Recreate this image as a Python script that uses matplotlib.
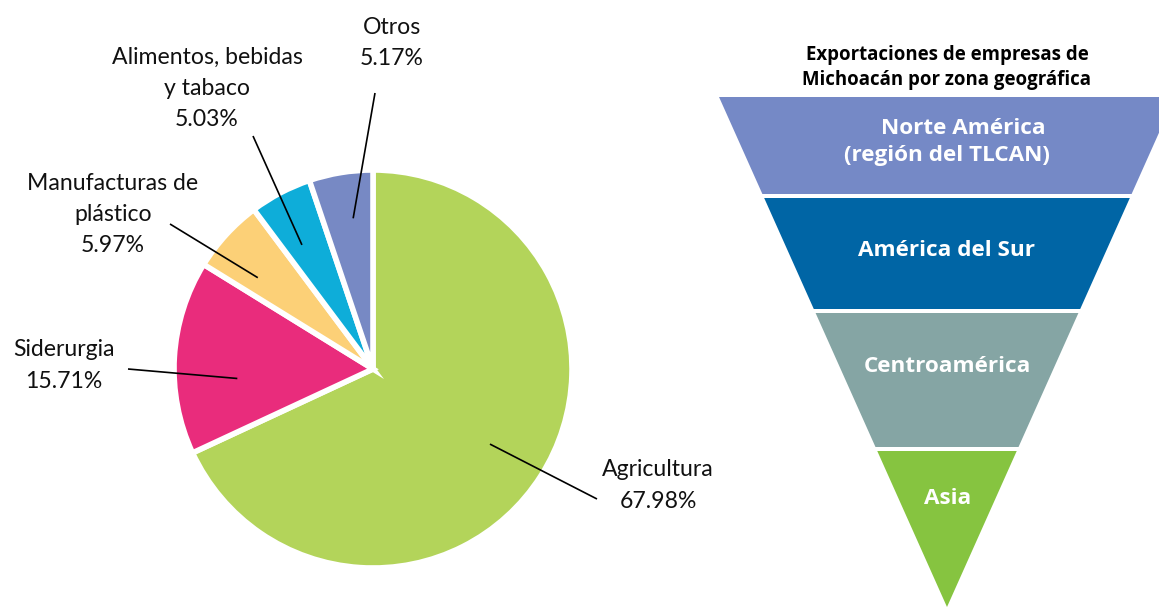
import numpy as np
import matplotlib.pyplot as plt

# pie data (share of exports by sector, %)
sectors = ['Agricultura', 'Siderurgia', 'Manufacturas de\nplástico',
           'Alimentos, bebidas\ny tabaco', 'Otros']
shares = [67.98, 15.71, 5.97, 5.03, 5.17]
share_labels = ['67.98%', '15.71%', '5.97%', '5.03%', '5.17%']
pie_colors = ['#B3D45A', '#E92C7C', '#FCD077', '#0EADD9', '#7789C4']

# funnel stages (top to bottom)
regions = ['Norte América\n(región del TLCAN)', 'América del Sur',
           'Centroamérica', 'Asia']
region_colors = ['#7589C6', '#0065A5', '#85A5A4', '#86C440']
funnel_title = 'Exportaciones de empresas de\nMichoacán por zona geográfica'

W, H = 1159, 607
plt.rcParams['font.family'] = ['Lato', 'DejaVu Sans']

fig = plt.figure(figsize=(W / 100, H / 100), dpi=100)
ax = fig.add_axes([0, 0, 1, 1])

# ---- pie ----
cx, cy, R = 373, H - 369, 199
wedges, _ = ax.pie(shares, startangle=90, counterclock=False,
                   center=(cx, cy), radius=R, colors=pie_colors,
                   wedgeprops=dict(edgecolor='white', linewidth=4))

# leader lines: (angle of inner point, radius of inner point, outer end x, y)
leaders = [(-32.7, 139, 597, 499),
           (184, 136, 128, 369),
           (141.6, 147, 170, 224),
           (119.8, 143, 253, 136),
           (97.5, 152, 375, 93)]
# label block centres (x, y of first line) in picture coords
label_pos = [(658, 470), (64, 350), (113, 183), (207, 57), (392, 27)]

for (ang, r, ox, oy) in leaders:
    a = np.deg2rad(ang)
    ax.plot([ox, cx + r * np.cos(a)], [H - oy, cy + r * np.sin(a)],
            color='black', lw=1.2, solid_capstyle='butt')

for name, lab, (lx, ly) in zip(sectors, share_labels, label_pos):
    lines = name.split('\n') + [lab]
    for i, t in enumerate(lines):
        ax.text(lx, H - (ly + i * 31.5), t, ha='center', va='center',
                fontsize=16.6, color='#111111')

# ---- funnel ----
apex_x, apex_y = 947, 607
k = 0.447
bands = [(97, 194), (198, 309), (313, 447), (451, 607)]
text_y = [(128, 155), (251,), (367,), (498,)]
text_x = [(963, 947), (947,), (947,), (948,)]

for (y0, y1), col in zip(bands, region_colors):
    hw0 = (apex_y - y0) * k
    hw1 = (apex_y - y1) * k
    poly = [(apex_x - hw0, H - y0), (apex_x + hw0, H - y0),
            (apex_x + hw1, H - y1), (apex_x - hw1, H - y1)]
    ax.add_patch(plt.Polygon(poly, closed=True, facecolor=col,
                             edgecolor='none'))

bold_font = ['Open Sans', 'DejaVu Sans']
for name, ys, xs in zip(regions, text_y, text_x):
    for t, y, x in zip(name.split('\n'), ys, xs):
        ax.text(x, H - y, t, ha='center', va='center', fontsize=16.2,
                fontweight='bold', color='white', family=bold_font)

for i, t in enumerate(funnel_title.split('\n')):
    ax.text(947, H - (55 + i * 25), t, ha='center', va='center',
            fontsize=13.4, fontweight='bold', color='black',
            family=bold_font)

ax.set_xlim(0, W)
ax.set_ylim(0, H)
ax.set_aspect('equal')
ax.axis('off')

fig.savefig('out.png', dpi=100)
